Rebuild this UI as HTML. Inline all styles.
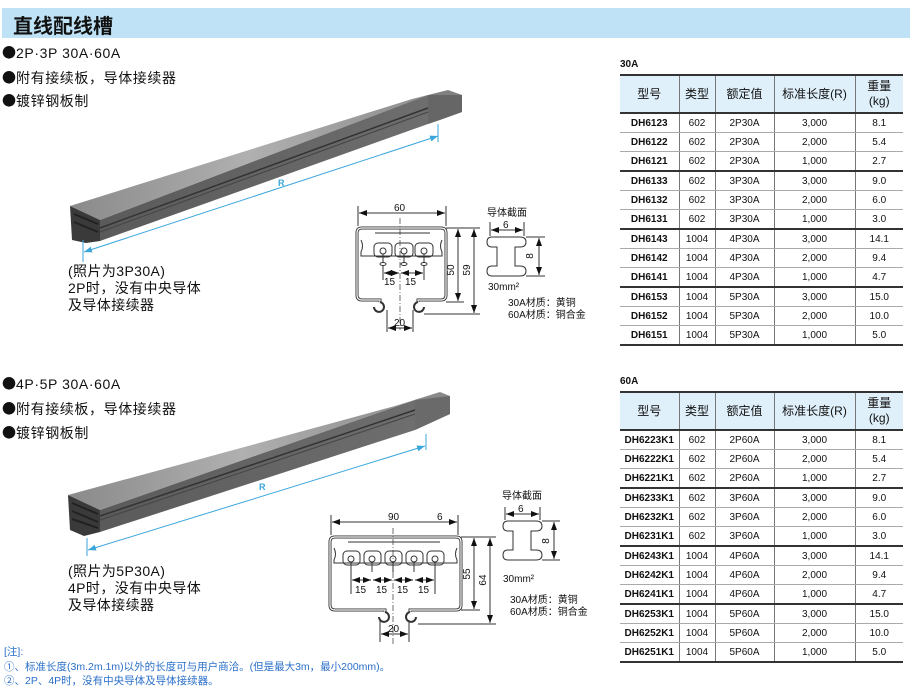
<!DOCTYPE html>
<html><head><meta charset="utf-8">
<style>
body{margin:0;width:914px;height:693px;background:#fff;position:relative;overflow:hidden;font-family:"Liberation Sans","Noto Sans CJK SC",sans-serif;color:#111}
.a{position:absolute;white-space:nowrap}
.hdr{left:2px;top:8px;width:908px;height:30px;background:#bfe2f6}
.hdr span{position:absolute;left:11px;top:2px;font-size:20px;font-weight:bold;color:#111}
.b{font-size:14px;letter-spacing:0.6px}
.bu{font-family:"Noto Sans CJK SC",sans-serif;font-size:14px;letter-spacing:0}
.cap{font-size:14px;line-height:17px;letter-spacing:0.4px}
table{position:absolute;border-collapse:collapse;font-size:10px;text-align:center}
td{height:18px;border-left:1px solid #777;border-bottom:1px solid #aaa;padding:0}
td:first-child{border-left:none;font-weight:bold}
tr.h td{height:36px;background:#dff0fa;font-size:12px;font-weight:normal;border-bottom:2px solid #333;line-height:15px}
tr.t td{border-bottom:2px solid #333}
.tt{font-size:10px;font-weight:bold}
.ft{font-size:10.5px;color:#2a6fc9;line-height:14.5px}
</style></head><body>
<div class="a hdr"><span>直线配线槽</span></div>

<div class="a b" style="left:2px;top:43px"><span class="bu">●</span>2P·3P 30A·60A</div>
<div class="a b" style="left:2px;top:68px"><span class="bu">●</span>附有接续板，导体接续器</div>
<div class="a b" style="left:2px;top:91px"><span class="bu">●</span>镀锌钢板制</div>
<div class="a cap" style="left:68px;top:263px">(照片为3P30A)<br>2P时，没有中央导体<br>及导体接续器</div>

<div class="a b" style="left:2px;top:374px"><span class="bu">●</span>4P·5P 30A·60A</div>
<div class="a b" style="left:2px;top:399px"><span class="bu">●</span>附有接续板，导体接续器</div>
<div class="a b" style="left:2px;top:423px"><span class="bu">●</span>镀锌钢板制</div>
<div class="a cap" style="left:68px;top:563px">(照片为5P30A)<br>4P时，没有中央导体<br>及导体接续器</div>

<div class="a ft" style="left:4px;top:645px">[注]:<br>①、标准长度(3m.2m.1m)以外的长度可与用户商洽。(但是最大3m，最小200mm)。<br>②、2P、4P时，没有中央导体及导体接续器。</div>

<svg class="a" style="left:0;top:0" width="914" height="693" font-family="Liberation Sans, sans-serif">
<defs>
<linearGradient id="g1" x1="0" y1="0" x2="1" y2="0"><stop offset="0" stop-color="#8a8a8a"/><stop offset="0.5" stop-color="#b0b0b0"/><stop offset="1" stop-color="#8e8e8e"/></linearGradient>
<linearGradient id="g2" x1="0" y1="0" x2="1" y2="0"><stop offset="0" stop-color="#5a5a5a"/><stop offset="1" stop-color="#6e6e6e"/></linearGradient>
<marker id="ar" markerWidth="8" markerHeight="6" refX="8" refY="3" orient="auto-start-reverse"><path d="M0,0 L8,3 L0,6 z" fill="#111"/></marker>
<marker id="ab" markerWidth="8" markerHeight="6" refX="8" refY="3" orient="auto-start-reverse"><path d="M0,0 L8,3 L0,6 z" fill="#3aa6dc"/></marker>
</defs>
<!-- rail 1 -->
<polygon points="70,206 412,99 428,95 100,220" fill="url(#g1)"/>
<polygon points="100,220 428,95 428,124 100,241" fill="url(#g2)"/>
<line x1="100" y1="228" x2="428" y2="108" stroke="#333" stroke-width="1.5"/>
<line x1="100" y1="232" x2="428" y2="112" stroke="#444" stroke-width="1"/>
<polygon points="412,99 448,90 462,95 462,112 440,120 428,124 428,95" fill="#808080"/>
<polygon points="428,95 462,95 462,112 428,124" fill="#666"/>
<polygon points="70,206 100,220 100,241 86,243 72,240" fill="#3a3a3a"/>
<line x1="74" y1="214" x2="98" y2="224" stroke="#222" stroke-width="2"/><line x1="74" y1="222" x2="98" y2="232" stroke="#222" stroke-width="2"/>
<line x1="84" y1="252" x2="438" y2="136" stroke="#3aa6dc" stroke-width="1" marker-start="url(#ab)" marker-end="url(#ab)"/>
<line x1="83" y1="240" x2="83" y2="262" stroke="#3aa6dc"/><line x1="438" y1="124" x2="438" y2="142" stroke="#3aa6dc"/>
<text x="278" y="186" font-size="9" fill="#3aa6dc" font-weight="bold">R</text>
<!-- rail 2 -->
<polygon points="68,495 395,406 415,400 100,510" fill="url(#g1)"/>
<polygon points="100,510 415,400 415,430 100,532" fill="url(#g2)"/>
<line x1="100" y1="516" x2="415" y2="410" stroke="#333" stroke-width="1.5"/>
<line x1="100" y1="520" x2="415" y2="414" stroke="#444" stroke-width="1"/>
<polygon points="395,406 440,392 450,396 450,414 415,430 415,400" fill="#8a8a8a"/>
<polygon points="415,400 450,396 450,414 415,430" fill="#6a6a6a"/>
<polygon points="68,495 100,510 100,532 84,536 70,530" fill="#3a3a3a"/>
<line x1="72" y1="503" x2="98" y2="514" stroke="#222" stroke-width="2"/><line x1="72" y1="511" x2="98" y2="522" stroke="#222" stroke-width="2"/><line x1="72" y1="519" x2="98" y2="528" stroke="#222" stroke-width="2"/>
<line x1="88" y1="550" x2="425" y2="446" stroke="#3aa6dc" stroke-width="1" marker-start="url(#ab)" marker-end="url(#ab)"/>
<line x1="87" y1="538" x2="87" y2="556" stroke="#3aa6dc"/><line x1="426" y1="434" x2="426" y2="450" stroke="#3aa6dc"/>
<text x="259" y="490" font-size="9" fill="#3aa6dc" font-weight="bold">R</text>

<g fill="none" stroke="#333" stroke-width="1">
<!-- profile 1 -->
<path d="M380,302 V300 H362 Q357,300 357,295 V233 Q357,228 362,228 H441 Q446,228 446,233 V295 Q446,300 441,300 H418 V302" stroke-width="3"/>
<path d="M380,302 V300 H362 Q357,300 357,295 V233 Q357,228 362,228 H441 Q446,228 446,233 V295 Q446,300 441,300 H418 V302" stroke="#fff" stroke-width="1.2"/>
<path d="M380,302 a5,5 0 1 1 -6,5" stroke-width="2"/><path d="M418,302 a5,5 0 1 0 6,5" stroke-width="2"/>
<path d="M361,240 Q364,246 361,252 V256 H442 V252 Q439,246 442,240"/>
<line x1="375" y1="233" x2="430" y2="233"/>
<rect x="374" y="243" width="18" height="14" rx="4"/><rect x="395" y="243" width="18" height="14" rx="4"/><rect x="415" y="243" width="18" height="14" rx="4"/>
<g><circle cx="383" cy="251" r="3"/><circle cx="404" cy="251" r="3"/><circle cx="424" cy="251" r="3"/>
<line x1="383" y1="254" x2="383" y2="262"/><line x1="404" y1="254" x2="404" y2="262"/><line x1="424" y1="254" x2="424" y2="262"/>
<ellipse cx="383" cy="264" rx="3" ry="1.5"/><ellipse cx="404" cy="264" rx="3" ry="1.5"/><ellipse cx="424" cy="264" rx="3" ry="1.5"/></g>
<line x1="400" y1="218" x2="400" y2="330" stroke-dasharray="6,2,1,2" stroke-width="0.7"/>
<line x1="358" y1="206" x2="358" y2="226"/><line x1="446" y1="206" x2="446" y2="226"/>
<line x1="359" y1="213" x2="445" y2="213" marker-start="url(#ar)" marker-end="url(#ar)"/>
<line x1="383" y1="266" x2="383" y2="280"/><line x1="424" y1="266" x2="424" y2="280"/>
<line x1="384" y1="273" x2="399" y2="273" marker-start="url(#ar)" marker-end="url(#ar)"/>
<line x1="401" y1="273" x2="423" y2="273" marker-start="url(#ar)" marker-end="url(#ar)"/>
<line x1="387" y1="310" x2="387" y2="332"/><line x1="413" y1="310" x2="413" y2="332"/>
<line x1="388" y1="328" x2="412" y2="328" marker-start="url(#ar)" marker-end="url(#ar)"/>
<line x1="446" y1="228" x2="480" y2="228"/><line x1="446" y1="302" x2="464" y2="302"/><line x1="424" y1="314" x2="480" y2="314"/>
<line x1="458" y1="229" x2="458" y2="301" marker-start="url(#ar)" marker-end="url(#ar)"/>
<line x1="474" y1="229" x2="474" y2="313" marker-start="url(#ar)" marker-end="url(#ar)"/>
<!-- conductor 1 -->
<path d="M492,237 H520 Q526,237 526,242 Q526,247 520,247 H515 V266 H520 Q526,266 526,271 Q526,276 520,276 H492 Q487,276 487,271 Q487,266 492,266 H497 V247 H492 Q487,247 487,242 Q487,237 492,237 Z"/>
<line x1="490" y1="222" x2="490" y2="236"/><line x1="524" y1="222" x2="524" y2="236"/>
<line x1="491" y1="230" x2="523" y2="230" marker-start="url(#ar)" marker-end="url(#ar)"/>
<line x1="526" y1="237" x2="545" y2="237"/><line x1="526" y1="276" x2="545" y2="276"/>
<line x1="539" y1="238" x2="539" y2="275" marker-start="url(#ar)" marker-end="url(#ar)"/>

<!-- profile 2 -->
<path d="M385,612 V610 H335 Q330,610 330,605 V542 Q330,537 335,537 H456 Q461,537 461,542 V605 Q461,610 456,610 H410 V612" stroke-width="3"/>
<path d="M385,612 V610 H335 Q330,610 330,605 V542 Q330,537 335,537 H456 Q461,537 461,542 V605 Q461,610 456,610 H410 V612" stroke="#fff" stroke-width="1.2"/>
<path d="M385,612 a5,5 0 1 1 -6,5" stroke-width="2"/><path d="M410,612 a5,5 0 1 0 6,5" stroke-width="2"/>
<path d="M334,548 Q337,554 334,560 V563 H457 V560 Q454,554 457,548"/>
<line x1="348" y1="542" x2="440" y2="542"/>
<rect x="343" y="551" width="17" height="14" rx="4"/><rect x="364" y="551" width="17" height="14" rx="4"/><rect x="385" y="551" width="17" height="14" rx="4"/><rect x="406" y="551" width="17" height="14" rx="4"/><rect x="427" y="551" width="17" height="14" rx="4"/>
<circle cx="351" cy="559" r="3"/><circle cx="372" cy="559" r="3"/><circle cx="393" cy="559" r="3"/><circle cx="414" cy="559" r="3"/><circle cx="435" cy="559" r="3"/>
<line x1="351" y1="562" x2="351" y2="572"/><line x1="372" y1="562" x2="372" y2="572"/><line x1="393" y1="562" x2="393" y2="572"/><line x1="414" y1="562" x2="414" y2="572"/><line x1="435" y1="562" x2="435" y2="572"/>
<line x1="351" y1="572" x2="351" y2="594"/><line x1="435" y1="572" x2="435" y2="594"/>
<line x1="352" y1="580" x2="371" y2="580" marker-start="url(#ar)" marker-end="url(#ar)"/>
<line x1="373" y1="580" x2="392" y2="580" marker-start="url(#ar)" marker-end="url(#ar)"/>
<line x1="394" y1="580" x2="413" y2="580" marker-start="url(#ar)" marker-end="url(#ar)"/>
<line x1="415" y1="580" x2="434" y2="580" marker-start="url(#ar)" marker-end="url(#ar)"/>
<line x1="393" y1="528" x2="393" y2="645" stroke-dasharray="6,2,1,2" stroke-width="0.7"/>
<line x1="331" y1="515" x2="331" y2="535"/><line x1="458" y1="515" x2="458" y2="535"/>
<line x1="332" y1="522" x2="457" y2="522" marker-start="url(#ar)" marker-end="url(#ar)"/>
<line x1="380" y1="620" x2="380" y2="642"/><line x1="409" y1="620" x2="409" y2="642"/>
<line x1="381" y1="634" x2="408" y2="634" marker-start="url(#ar)" marker-end="url(#ar)"/>
<line x1="461" y1="537" x2="496" y2="537"/><line x1="461" y1="610" x2="480" y2="610"/><line x1="418" y1="624" x2="496" y2="624"/>
<line x1="474" y1="538" x2="474" y2="609" marker-start="url(#ar)" marker-end="url(#ar)"/>
<line x1="490" y1="538" x2="490" y2="623" marker-start="url(#ar)" marker-end="url(#ar)"/>
<!-- conductor 2 -->
<path d="M508,521 H536 Q542,521 542,526 Q542,531 536,531 H531 V550 H536 Q542,550 542,555 Q542,560 536,560 H508 Q503,560 503,555 Q503,550 508,550 H513 V531 H508 Q503,531 503,526 Q503,521 508,521 Z"/>
<line x1="505" y1="507" x2="505" y2="520"/><line x1="540" y1="507" x2="540" y2="520"/>
<line x1="506" y1="514" x2="539" y2="514" marker-start="url(#ar)" marker-end="url(#ar)"/>
<line x1="542" y1="521" x2="560" y2="521"/><line x1="542" y1="560" x2="560" y2="560"/>
<line x1="554" y1="522" x2="554" y2="559" marker-start="url(#ar)" marker-end="url(#ar)"/>
</g>
<g font-size="10" fill="#111">
<text x="394" y="211">60</text>
<text x="384" y="285">15</text><text x="405" y="285">15</text>
<text x="394" y="326">20</text>
<text x="456" y="270" transform="rotate(-90 456 270)" text-anchor="middle" dy="-2">50</text>
<text x="472" y="270" transform="rotate(-90 472 270)" text-anchor="middle" dy="-2">59</text>
<text x="487" y="216" font-size="10">导体截面</text>
<text x="503" y="228">6</text>
<text x="535" y="256" transform="rotate(-90 535 256)" text-anchor="middle" dy="-2">8</text>
<text x="488" y="290">30mm²</text>
<text x="508" y="306">30A材质：黄铜</text><text x="508" y="318">60A材质：铜合金</text>

<text x="388" y="520">90</text><text x="437" y="520">6</text>
<text x="355" y="593">15</text><text x="376" y="593">15</text><text x="397" y="593">15</text><text x="418" y="593">15</text>
<text x="388" y="632">20</text>
<text x="472" y="574" transform="rotate(-90 472 574)" text-anchor="middle" dy="-2">55</text>
<text x="488" y="580" transform="rotate(-90 488 580)" text-anchor="middle" dy="-2">64</text>
<text x="502" y="499">导体截面</text>
<text x="518" y="512">6</text>
<text x="551" y="541" transform="rotate(-90 551 541)" text-anchor="middle" dy="-2">8</text>
<text x="503" y="582">30mm²</text>
<text x="510" y="603">30A材质：黄铜</text><text x="510" y="615">60A材质：铜合金</text>
</g>
<line x1="620" y1="75" x2="903" y2="75" stroke="#333" stroke-width="2"/>
<line x1="620" y1="392" x2="903" y2="392" stroke="#333" stroke-width="2"/>
</svg>

<div class="a tt" style="left:620px;top:59px">30A</div>
<table style="left:620px;top:76px;width:283px">
<colgroup><col style="width:59px"><col style="width:36px"><col style="width:59px"><col style="width:81px"><col style="width:48px"></colgroup>
<tr class="h"><td>型号</td><td>类型</td><td>额定值</td><td>标准长度(R)</td><td>重量<br>(kg)</td></tr>
<tr><td>DH6123</td><td>602</td><td>2P30A</td><td>3,000</td><td>8.1</td></tr>
<tr><td>DH6122</td><td>602</td><td>2P30A</td><td>2,000</td><td>5.4</td></tr>
<tr class="t"><td>DH6121</td><td>602</td><td>2P30A</td><td>1,000</td><td>2.7</td></tr>
<tr><td>DH6133</td><td>602</td><td>3P30A</td><td>3,000</td><td>9.0</td></tr>
<tr><td>DH6132</td><td>602</td><td>3P30A</td><td>2,000</td><td>6.0</td></tr>
<tr class="t"><td>DH6131</td><td>602</td><td>3P30A</td><td>1,000</td><td>3.0</td></tr>
<tr><td>DH6143</td><td>1004</td><td>4P30A</td><td>3,000</td><td>14.1</td></tr>
<tr><td>DH6142</td><td>1004</td><td>4P30A</td><td>2,000</td><td>9.4</td></tr>
<tr class="t"><td>DH6141</td><td>1004</td><td>4P30A</td><td>1,000</td><td>4.7</td></tr>
<tr><td>DH6153</td><td>1004</td><td>5P30A</td><td>3,000</td><td>15.0</td></tr>
<tr><td>DH6152</td><td>1004</td><td>5P30A</td><td>2,000</td><td>10.0</td></tr>
<tr class="t"><td>DH6151</td><td>1004</td><td>5P30A</td><td>1,000</td><td>5.0</td></tr>
</table>

<div class="a tt" style="left:620px;top:376px">60A</div>
<table style="left:620px;top:393px;width:283px">
<colgroup><col style="width:59px"><col style="width:36px"><col style="width:59px"><col style="width:81px"><col style="width:48px"></colgroup>
<tr class="h"><td>型号</td><td>类型</td><td>额定值</td><td>标准长度(R)</td><td>重量<br>(kg)</td></tr>
<tr><td>DH6223K1</td><td>602</td><td>2P60A</td><td>3,000</td><td>8.1</td></tr>
<tr><td>DH6222K1</td><td>602</td><td>2P60A</td><td>2,000</td><td>5.4</td></tr>
<tr class="t"><td>DH6221K1</td><td>602</td><td>2P60A</td><td>1,000</td><td>2.7</td></tr>
<tr><td>DH6233K1</td><td>602</td><td>3P60A</td><td>3,000</td><td>9.0</td></tr>
<tr><td>DH6232K1</td><td>602</td><td>3P60A</td><td>2,000</td><td>6.0</td></tr>
<tr class="t"><td>DH6231K1</td><td>602</td><td>3P60A</td><td>1,000</td><td>3.0</td></tr>
<tr><td>DH6243K1</td><td>1004</td><td>4P60A</td><td>3,000</td><td>14.1</td></tr>
<tr><td>DH6242K1</td><td>1004</td><td>4P60A</td><td>2,000</td><td>9.4</td></tr>
<tr class="t"><td>DH6241K1</td><td>1004</td><td>4P60A</td><td>1,000</td><td>4.7</td></tr>
<tr><td>DH6253K1</td><td>1004</td><td>5P60A</td><td>3,000</td><td>15.0</td></tr>
<tr><td>DH6252K1</td><td>1004</td><td>5P60A</td><td>2,000</td><td>10.0</td></tr>
<tr class="t"><td>DH6251K1</td><td>1004</td><td>5P60A</td><td>1,000</td><td>5.0</td></tr>
</table>
</body></html>
